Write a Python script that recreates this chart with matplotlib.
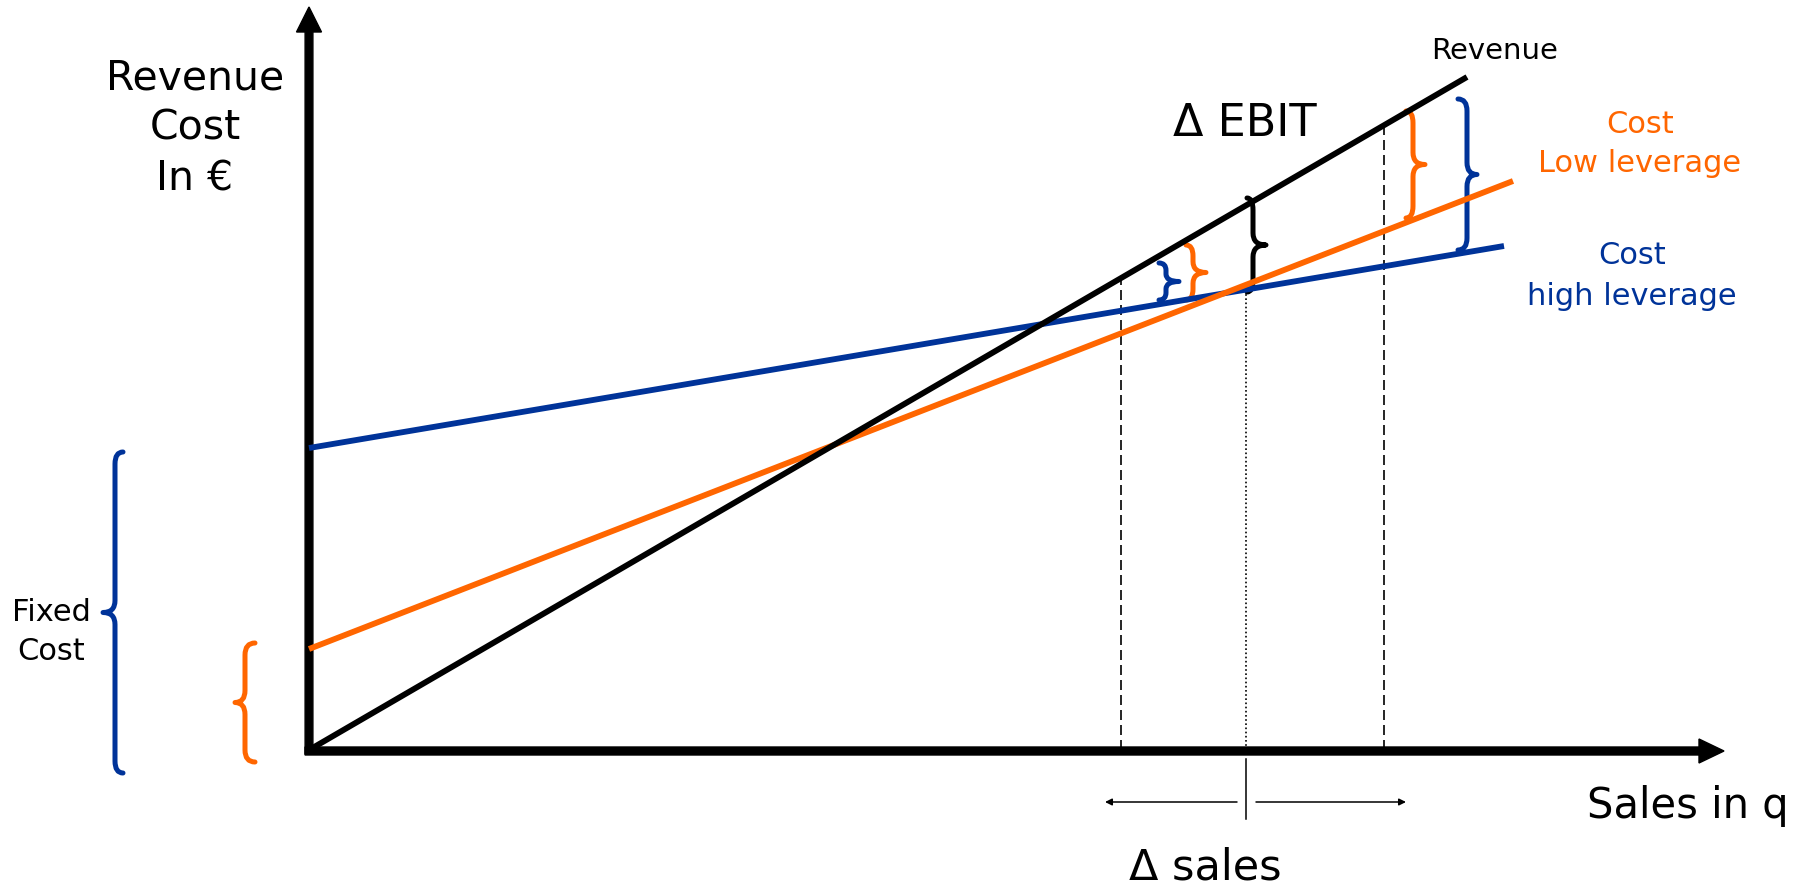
import numpy as np
import matplotlib
matplotlib.use("Agg")
import matplotlib.pyplot as plt
from matplotlib.path import Path
from matplotlib.patches import PathPatch

plt.rcParams['font.family'] = ['DejaVu Sans']

ORANGE = '#FF6600'
BLUE = '#003399'

# Sales quantity (x) against euros (y), arbitrary units
revenue_q = [0, 115.8]
revenue = [0, 67.3]
low_lev_q = [0, 120.4]
low_lev_cost = [10.1, 56.9]
high_lev_q = [0, 119.5]
high_lev_cost = [30.2, 50.4]

# sales levels: lower, base, higher
q_low, q_mid, q_high = 81.2, 93.7, 107.5

# braces: (spine x, bottom, top, tip, curl, colour)
fixed_braces = [
    (-19.4, -2.3, 29.8, -1.2, 0.8, BLUE),
    (-6.4, -1.2, 10.7, -1.0, 1.0, ORANGE),
]
ebit_braces = [
    (94.4, 45.8, 55.2, 1.3, 0.6, 'black'),
    (85.7, 45.0, 48.7, 1.3, 0.7, BLUE),
    (88.4, 45.0, 50.5, 1.3, 0.7, ORANGE),
    (110.4, 53.2, 63.9, 1.2, 0.7, ORANGE),
    (115.8, 50.0, 65.1, 1.0, 0.9, BLUE),
]


def brace(ax, x, y0, y1, tip, curl, color, lw=3.6):
    ym = (y0 + y1) / 2
    r = min(1.2, (y1 - y0) / 5)
    e = -np.sign(tip) * curl
    verts = [(x + e, y1), (x, y1), (x, y1 - r),
             (x, ym + r),
             (x, ym), (x + tip, ym),
             (x, ym), (x, ym - r),
             (x, y0 + r),
             (x, y0), (x + e, y0)]
    codes = [Path.MOVETO, Path.CURVE3, Path.CURVE3,
             Path.LINETO,
             Path.CURVE3, Path.CURVE3,
             Path.CURVE3, Path.CURVE3,
             Path.LINETO,
             Path.CURVE3, Path.CURVE3]
    ax.add_patch(PathPatch(Path(verts, codes), fill=False, edgecolor=color,
                           lw=lw, capstyle='round', joinstyle='round'))


fig = plt.figure(figsize=(18, 8.89), dpi=100)
ax = fig.add_axes([0, 0, 1, 1])
ax.set_xlim(-30.9, 149.1)
ax.set_ylim(-13.9, 75.0)
ax.axis('off')

# axes with arrow heads
ax.arrow(0, -0.4, 0, 74.7, width=0.78, head_width=2.5, head_length=2.5,
         length_includes_head=True, color='black')
ax.arrow(-0.4, -0.1, 141.9, 0, width=0.8, head_width=2.4, head_length=2.5,
         length_includes_head=True, color='black')

# vertical guides at the three sales levels
rev_at = lambda q: np.interp(q, revenue_q, revenue)
ax.plot([q_low, q_low], [0, rev_at(q_low)], color='black', lw=1.2, ls=(0, (6, 3)))
ax.plot([q_high, q_high], [0, rev_at(q_high)], color='black', lw=1.2, ls=(0, (6, 3)))
ax.plot([q_mid, q_mid], [0, np.interp(q_mid, high_lev_q, high_lev_cost)],
        color='black', lw=1.2, ls=(0, (1, 1.5)))

# revenue and cost lines
ax.plot(high_lev_q, high_lev_cost, color=BLUE, lw=4.2, solid_capstyle='butt')
ax.plot(low_lev_q, low_lev_cost, color=ORANGE, lw=4.2, solid_capstyle='butt')
ax.plot(revenue_q, revenue, color='black', lw=4.2, solid_capstyle='butt')

for b in fixed_braces + ebit_braces:
    brace(ax, *b)

# delta sales marker below the axis
ax.plot([q_mid, q_mid], [-0.9, -6.9], color='black', lw=1.1)
ax.annotate('', xy=(q_low - 1.6, -5.2), xytext=(q_mid - 0.9, -5.2),
            arrowprops=dict(arrowstyle='-|>', color='black', lw=1.1,
                            mutation_scale=10, shrinkA=0, shrinkB=0))
ax.annotate('', xy=(q_high + 2.2, -5.2), xytext=(q_mid + 1.0, -5.2),
            arrowprops=dict(arrowstyle='-|>', color='black', lw=1.1,
                            mutation_scale=10, shrinkA=0, shrinkB=0))

# labels
ax.text(-11.4, 62.1, 'Revenue\nCost\nIn €', fontsize=29.5, ha='center',
        va='center', linespacing=1.33)
ax.text(93.6, 62.6, 'Δ EBIT', fontsize=32, ha='center', va='center')
ax.text(118.6, 69.9, 'Revenue', fontsize=21, ha='center', va='center')
ax.text(133.1, 60.6, 'Cost\nLow leverage', fontsize=22, ha='center',
        va='center', color=ORANGE, linespacing=1.45)
ax.text(132.3, 47.4, 'Cost\nhigh leverage', fontsize=22, ha='center',
        va='center', color=BLUE, linespacing=1.5)
ax.text(-25.8, 11.8, 'Fixed\nCost', fontsize=22, ha='center', va='center',
        linespacing=1.45)
ax.text(137.9, -5.6, 'Sales in q', fontsize=30, ha='center', va='center')
ax.text(89.6, -11.7, 'Δ sales', fontsize=31, ha='center', va='center')

fig.savefig('out.png', dpi=100)
